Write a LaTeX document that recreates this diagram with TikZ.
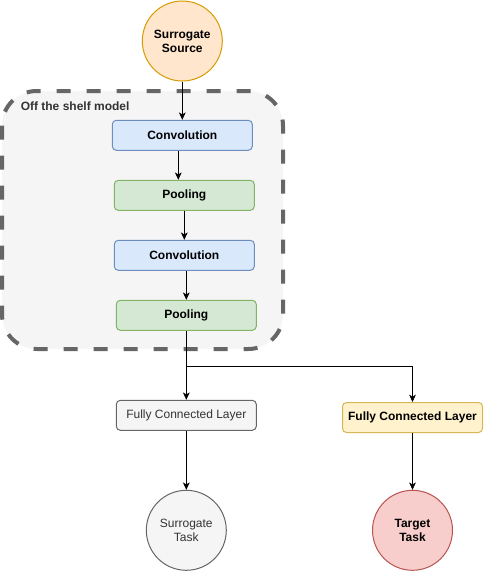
\documentclass[tikz,border=0pt]{standalone}
\usepackage{fontspec}
\setmainfont{Liberation Sans}
\usetikzlibrary{arrows.meta}
\definecolor{srcfill}{HTML}{FFE6CC}
\definecolor{srcline}{HTML}{D79B00}
\definecolor{convfill}{HTML}{DAE8FC}
\definecolor{convline}{HTML}{6C8EBF}
\definecolor{poolfill}{HTML}{D5E8D4}
\definecolor{poolline}{HTML}{82B366}
\definecolor{greyfill}{HTML}{F5F5F5}
\definecolor{greyline}{HTML}{666666}
\definecolor{greytext}{HTML}{333333}
\definecolor{fcfill}{HTML}{FFF2CC}
\definecolor{fcline}{HTML}{D6B656}
\definecolor{tgtfill}{HTML}{F8CECC}
\definecolor{tgtline}{HTML}{B85450}
\begin{document}
\begin{tikzpicture}[x=0.75pt,y=-0.75pt,
    font=\fontsize{9}{10.5}\selectfont,
    >={Stealth[length=5.5pt,width=5pt,inset=1.5pt]},
    layer/.style={draw,rounded corners=3pt,line width=0.75pt,inner sep=0pt,
      minimum width=105pt,minimum height=22.5pt,font=\fontsize{9}{10.5}\selectfont\bfseries},
    convbox/.style={layer,fill=convfill,draw=convline},
    poolbox/.style={layer,fill=poolfill,draw=poolline},
    ball/.style={circle,draw,line width=0.75pt,inner sep=0pt,minimum size=60pt,align=center},
    shelf/.style={draw=greyline,fill=greyfill,line width=3pt,
      dash pattern=on 10.5pt off 12pt,rounded corners=26pt}]
  \useasboundingbox (0,0) rectangle (483,571);
  % frame of the pretrained part
  \draw[shelf] (2,91) rectangle (283,349);
  \node[anchor=west,inner sep=0pt,text=greytext,font=\fontsize{9}{10.5}\selectfont\bfseries]
    (shelflbl) at (20.5,106) {Off the shelf model};

  \node[ball,fill=srcfill,draw=srcline,font=\fontsize{9}{10.5}\selectfont\bfseries]
    (src) at (182.3,41) {Surrogate\\Source};
  \node[convbox] (conv1) at (182.3,135.3) {Convolution};
  \node[poolbox] (pool1) at (184.3,195.3) {Pooling};
  \node[convbox] (conv2) at (184.3,255.3) {Convolution};
  \node[poolbox] (pool2) at (186.3,315.3) {Pooling};

  \node[layer,fill=greyfill,draw=greyline,text=greytext,font=\fontsize{9}{10.5}\selectfont]
    (fc1) at (186.3,415.3) {Fully Connected Layer};
  \node[layer,fill=fcfill,draw=fcline] (fc2) at (412.5,417.5) {Fully Connected Layer};

  \node[ball,fill=greyfill,draw=greyline,text=greytext] (surtask) at (186.3,530.3) {Surrogate\\Task};
  \node[ball,fill=tgtfill,draw=tgtline,font=\fontsize{9}{10.5}\selectfont\bfseries]
    (tgttask) at (412.5,530.3) {Target\\Task};

  % connections
  \draw[->] (src) -- (conv1);
  \draw[->] ([xshift=-3pt]conv1.south) -- ([xshift=-4.5pt]pool1.north);
  \draw[->] (pool1) -- (conv2);
  \draw[->] ([xshift=1.5pt]conv2.south) -- (pool2.north);
  \draw[->] (pool2) -- (fc1);
  \coordinate (split) at (186.3,366.7);
  \draw[->] (split) -| (fc2.north);
  \draw[->] (fc1) -- (surtask);
  \draw[->] (fc2) -- (tgttask);
\end{tikzpicture}
\end{document}
